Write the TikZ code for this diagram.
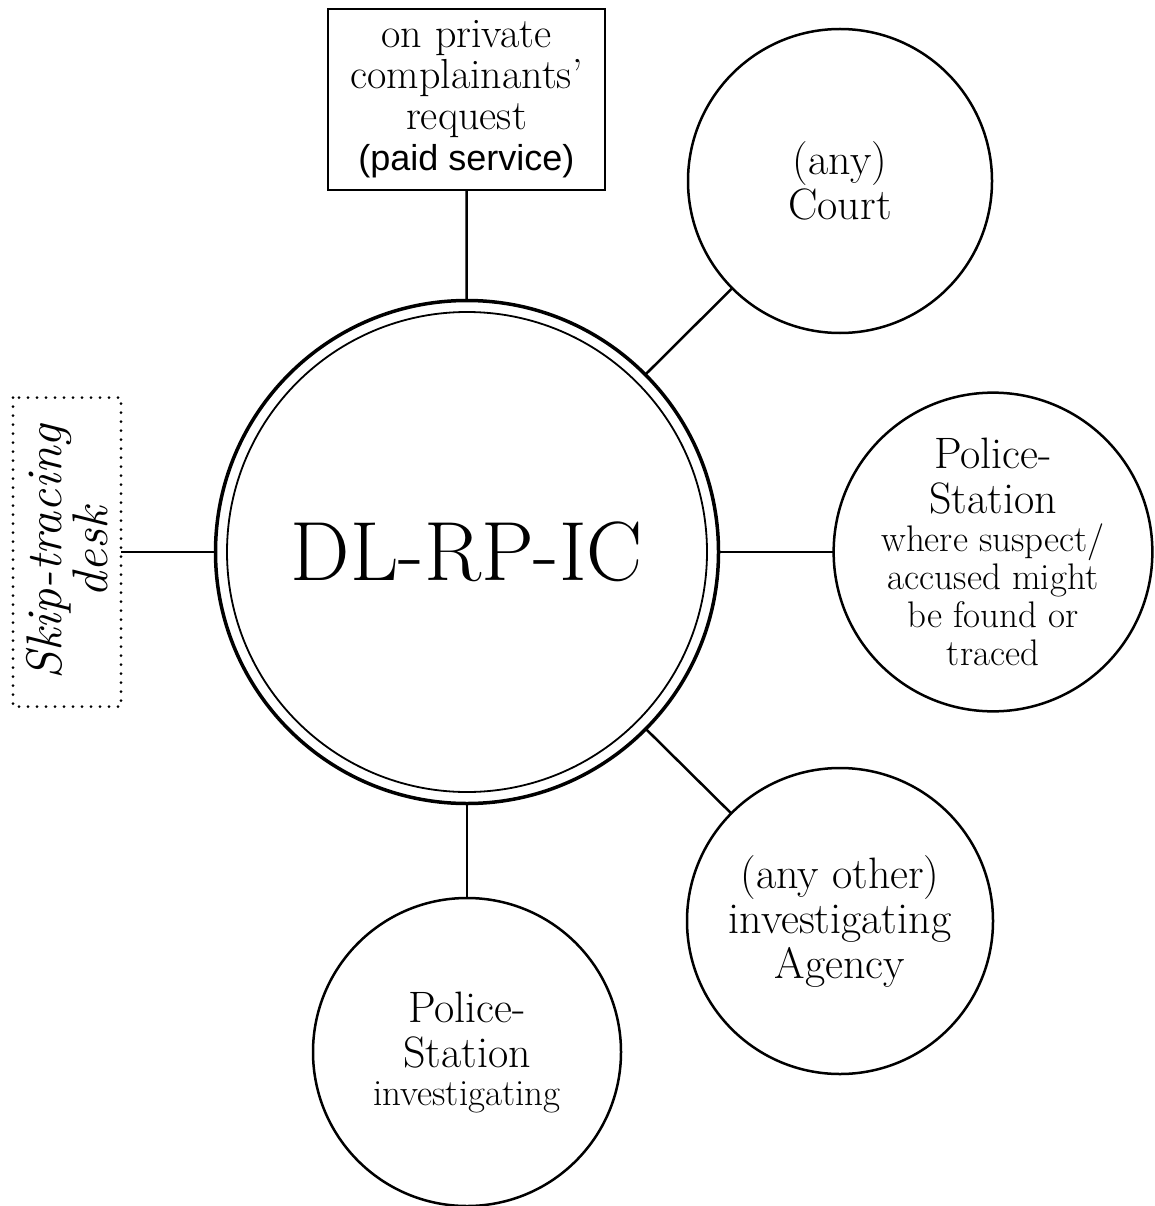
\documentclass[tikz,border=0pt]{standalone}
\usepackage{fontspec}
\newfontfamily\sansfam{Liberation Sans}
\usetikzlibrary{positioning}
\newcommand\labfont{\fontsize{44}{45}\selectfont}
\newcommand\notefont{\fontsize{37}{38}\selectfont}

\begin{document}
\begin{tikzpicture}[x=1pt,y=-1pt,line width=2.5pt,
  main node/.style={circle,draw,inner sep=0pt,outer sep=0pt,align=center,font=\labfont},
  box node/.style={rectangle,draw,inner sep=0pt,outer sep=0pt,align=center}]
  \useasboundingbox (0,0) rectangle (1155,1206);

  \node[main node,minimum size=503pt,line width=3.5pt] (hub) at (467,552) {\fontsize{84}{88}\selectfont DL-RP-IC};
  \draw[line width=1.8pt] (hub.center) circle (240pt);

  \node[box node,minimum width=277pt,minimum height=181pt,font=\fontsize{42}{41}\selectfont] (request) at (466.5,99.5)
    {on private\\complainants'\\request\\{\sansfam\fontsize{36}{41}\selectfont (paid service)}};
  \node[box node,rotate=90,minimum width=309pt,minimum height=108pt,line width=3pt,
    dash pattern=on 0pt off 9pt,line cap=round,font=\itshape\fontsize{50}{38}\selectfont] (skip) at (67,552)
    {Skip-tracing\\desk};

  \node[main node,minimum size=304pt] (court) at (840,181) {(any)\\Court};
  \node[main node,minimum size=310pt] (suspect) at (993,552)
    {Police-\\Station\\[-7pt]\notefont where suspect/\\[-7pt]\notefont accused might\\[-7pt]\notefont be found or\\[-7pt]\notefont traced};
  \node[main node,minimum size=306pt] (agency) at (840,921) {(any other)\\investigating\\Agency};
  \node[main node,minimum size=308pt] (station) at (467,1052)
    {Police-\\Station\\[-7pt]\notefont investigating};

  \path
    (hub) edge (request)
    (hub) edge (court)
    (hub) edge (suspect)
    (hub) edge (agency)
    (hub) edge (station)
    (hub) edge (skip);
\end{tikzpicture}
\end{document}
